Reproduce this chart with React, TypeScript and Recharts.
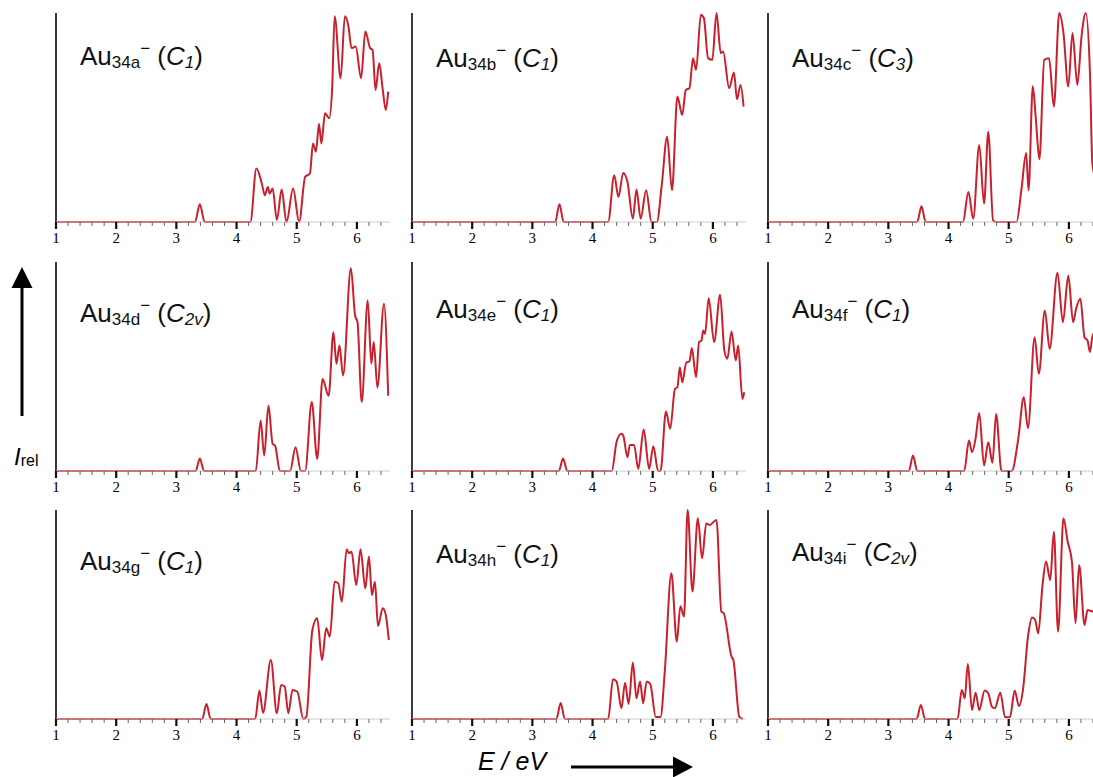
import { LineChart, Line, XAxis, YAxis, ReferenceLine } from "recharts";

const red = "#c8202c";

// tick positions on the energy axis (eV); integers get a label
const energyTicks = [
  1, 1.2, 1.4, 1.6, 1.8, 2, 2.2, 2.4, 2.6, 2.8, 3, 3.2, 3.4, 3.6, 3.8, 4, 4.2, 4.4, 4.6, 4.8,
  5, 5.2, 5.4, 5.6, 5.8, 6, 6.2, 6.4,
];

// Au34a- (C1)
const eA = [1, 3.31, 3.39, 3.47, 4.23, 4.33, 4.42, 4.47, 4.52, 4.55, 4.6, 4.67, 4.75, 4.83, 4.94, 5.04, 5.14, 5.22, 5.27, 5.32, 5.37, 5.41, 5.47, 5.54, 5.59, 5.63, 5.73, 5.8, 5.86, 5.91, 5.98, 6.07, 6.14, 6.22, 6.26, 6.31, 6.37, 6.43, 6.48, 6.52];
const iA = [0, 0, 8.5, 0, 0, 25.6, 18.4, 12.8, 16.8, 13.6, 16, 1, 15.5, 0, 16, 0, 21.6, 23.2, 37.6, 33.6, 47, 37.6, 52, 49.6, 64.8, 98.4, 68.8, 98.4, 93.6, 83.2, 84, 68.8, 91.2, 83.2, 82.4, 63.2, 76, 63.2, 53.6, 62.4];

// Au34b- (C1)
const eB = [1, 3.38, 3.45, 3.52, 4.26, 4.36, 4.43, 4.51, 4.58, 4.67, 4.73, 4.8, 4.89, 4.98, 5.07, 5.15, 5.24, 5.32, 5.41, 5.49, 5.55, 5.61, 5.67, 5.72, 5.8, 5.85, 5.92, 5.99, 6.06, 6.13, 6.17, 6.27, 6.35, 6.4, 6.46, 6.51];
const iB = [0, 0, 8.5, 0, 0, 22.4, 12, 23.5, 19.2, 1.6, 15.5, 1.6, 15.2, 0, 0, 17.6, 40.8, 15.2, 60, 51.2, 63.2, 64, 78.4, 72.8, 99.2, 97.6, 78.4, 77.6, 100, 80.8, 81.6, 64, 71.5, 58.7, 65.6, 55.2];

// Au34c- (C3)
const eC = [1, 3.48, 3.55, 3.62, 4.24, 4.33, 4.41, 4.51, 4.59, 4.66, 4.74, 4.79, 5.13, 5.21, 5.29, 5.33, 5.4, 5.45, 5.51, 5.59, 5.67, 5.75, 5.84, 5.91, 5.99, 6.06, 6.14, 6.21, 6.28, 6.35, 6.39, 6.45];
const iC = [0, 0, 7.5, 0, 0, 14.4, 1.6, 36.8, 8.8, 43.2, 0.8, 0, 0, 15.2, 33, 15.2, 65, 49.6, 30, 77.6, 78.4, 55.2, 100, 90.4, 64.8, 90.4, 65.6, 88.8, 100, 71.2, 28, 20];

// Au34d- (C2v)
const eD = [1, 3.32, 3.39, 3.46, 4.32, 4.4, 4.46, 4.53, 4.6, 4.64, 4.72, 4.89, 4.98, 5.07, 5.14, 5.25, 5.34, 5.43, 5.53, 5.61, 5.66, 5.71, 5.77, 5.9, 5.97, 6.01, 6.08, 6.18, 6.24, 6.28, 6.34, 6.45, 6.52];
const iD = [0, 0, 6, 0, 0, 24.2, 7.4, 31.3, 13, 12.2, 0, 0, 11.4, 0, 0, 33, 5.8, 44, 36, 66.4, 51.3, 60, 45.7, 97, 74.4, 71.2, 33, 81.6, 51.3, 61.7, 40, 80, 36];

// Au34e- (C1)
const eE = [1, 3.44, 3.51, 3.58, 4.32, 4.4, 4.48, 4.51, 4.58, 4.62, 4.69, 4.76, 4.85, 4.94, 5.01, 5.09, 5.13, 5.22, 5.29, 5.37, 5.41, 5.45, 5.49, 5.56, 5.61, 5.65, 5.72, 5.77, 5.81, 5.84, 5.87, 5.93, 6.02, 6.12, 6.19, 6.24, 6.31, 6.38, 6.42, 6.49, 6.52];
const iE = [0, 0, 6, 0, 0, 14, 17.8, 17, 6.6, 12.5, 12.5, 1, 19.9, 1, 11.9, 0, 0, 28.5, 20.2, 39.3, 40, 49.7, 42.5, 52, 52.4, 58.8, 44.9, 61.7, 62.4, 67.2, 65.6, 82.7, 61.7, 84.3, 57.7, 53.7, 66.8, 52.9, 60, 34.5, 37.7];

// Au34f- (C1)
const eF = [1, 3.34, 3.41, 3.48, 4.26, 4.34, 4.39, 4.45, 4.51, 4.59, 4.66, 4.73, 4.79, 4.88, 5.05, 5.16, 5.25, 5.32, 5.43, 5.5, 5.6, 5.68, 5.81, 5.9, 5.99, 6.07, 6.12, 6.19, 6.26, 6.31, 6.35, 6.4, 6.45];
const iF = [0, 0, 7.4, 0, 0, 14.6, 9, 15.7, 27.8, 2.6, 13.8, 3.9, 27.3, 0, 0, 15.7, 35.3, 20.5, 64, 46.5, 76.8, 58.5, 94.8, 71.2, 93.5, 71.2, 77.6, 82.4, 64, 62.4, 56.9, 65.6, 60];

// Au34g- (C1)
const eG = [1, 3.43, 3.5, 3.57, 4.31, 4.38, 4.44, 4.57, 4.67, 4.74, 4.8, 4.86, 4.93, 5.01, 5.11, 5.16, 5.26, 5.34, 5.42, 5.49, 5.55, 5.63, 5.69, 5.75, 5.83, 5.87, 5.91, 5.99, 6.06, 6.14, 6.2, 6.25, 6.3, 6.35, 6.43, 6.48, 6.53];
const iG = [0, 0, 7.2, 0, 0, 13.6, 3, 28.2, 2.7, 16.3, 15.5, 2.7, 13.9, 13, 0, 1, 42.6, 48.2, 28.2, 43.4, 39.4, 65.7, 64.9, 56.1, 81.2, 79.3, 80, 64.1, 81.2, 62.5, 77.7, 59.3, 65.7, 44.5, 53, 49.8, 37.8];

// Au34h- (C1)
const eH = [1, 3.4, 3.47, 3.54, 4.26, 4.34, 4.4, 4.48, 4.54, 4.6, 4.67, 4.73, 4.79, 4.84, 4.9, 4.96, 5.05, 5.13, 5.2, 5.31, 5.4, 5.46, 5.52, 5.58, 5.66, 5.75, 5.82, 5.89, 5.95, 6.0, 6.06, 6.14, 6.18, 6.31, 6.34, 6.44, 6.5];
const iH = [0, 0, 7.7, 0, 0, 19, 17.9, 5.1, 17.4, 7.2, 27, 9.9, 17.9, 7.5, 17.9, 16.7, 1, 1, 22.6, 69.7, 37, 54, 49, 100, 61, 96, 76.9, 93.6, 92.8, 94, 95.2, 51.4, 50.6, 29.8, 28.2, 1, 0];

// Au34i- (C2v)
const eI = [1, 3.47, 3.54, 3.61, 4.15, 4.22, 4.27, 4.32, 4.39, 4.45, 4.51, 4.6, 4.66, 4.72, 4.77, 4.86, 4.94, 5.02, 5.1, 5.17, 5.24, 5.32, 5.39, 5.44, 5.49, 5.56, 5.62, 5.69, 5.75, 5.82, 5.91, 5.98, 6.05, 6.11, 6.17, 6.26, 6.31, 6.39, 6.44];
const iI = [0, 0, 6.7, 0, 0, 13.9, 9.9, 26.3, 4.3, 12.6, 4.3, 13.6, 12.3, 5.9, 5.1, 12.6, 1, 0.8, 13.6, 6.2, 14.7, 39.4, 48.6, 47.4, 41, 63.5, 75.3, 66.5, 89.6, 41.8, 96, 84.8, 75.3, 45.8, 73.7, 45, 52.2, 51.4, 55];

const colX = [56, 412, 768];
const rowTop = [13, 261.5, 510];

const panels = [
  { e: eA, v: iA, col: 0, row: 0, iso: "a", pg: "1", labelY: 65 },
  { e: eB, v: iB, col: 1, row: 0, iso: "b", pg: "1", labelY: 67 },
  { e: eC, v: iC, col: 2, row: 0, iso: "c", pg: "3", labelY: 67 },
  { e: eD, v: iD, col: 0, row: 1, iso: "d", pg: "2v", labelY: 322 },
  { e: eE, v: iE, col: 1, row: 1, iso: "e", pg: "1", labelY: 318 },
  { e: eF, v: iF, col: 2, row: 1, iso: "f", pg: "1", labelY: 318 },
  { e: eG, v: iG, col: 0, row: 2, iso: "g", pg: "1", labelY: 570 },
  { e: eH, v: iH, col: 1, row: 2, iso: "h", pg: "1", labelY: 563 },
  { e: eI, v: iI, col: 2, row: 2, iso: "i", pg: "2v", labelY: 561 },
];

const EnergyTick = (props: any) => {
  const { x, y, payload } = props;
  const major = Math.abs(payload.value - Math.round(payload.value)) < 1e-6;
  return (
    <g>
      <line
        x1={x}
        x2={x}
        y1={y}
        y2={y + (major ? 7 : 4)}
        stroke={major ? "#111" : "#666"}
        strokeWidth={major ? 2.2 : 1}
      />
      {major && (
        <text
          x={x}
          y={y + 21}
          textAnchor="middle"
          fontFamily="'Liberation Serif', 'Times New Roman', serif"
          fontSize={15}
          fill="#000"
        >
          {payload.value}
        </text>
      )}
    </g>
  );
};

function Spectrum({ energies, values, left, top }: any) {
  const data = energies.map((e: number, i: number) => ({ e, v: values[i] }));
  return (
    <div style={{ position: "absolute", left: left - 10, top: top - 10 }}>
      <LineChart width={354} height={249} data={data} margin={{ top: 10, right: 10, bottom: 0, left: 10 }}>
        <XAxis
          type="number"
          dataKey="e"
          domain={[1, 6.55]}
          ticks={energyTicks}
          interval={0}
          tick={<EnergyTick />}
          tickLine={false}
          tickSize={0}
          tickMargin={0}
          axisLine={{ stroke: "#cccccc", strokeWidth: 1 }}
          height={30}
        />
        <YAxis type="number" domain={[0, 100]} hide />
        <ReferenceLine x={1} stroke="#3a3a3a" strokeWidth={2} />
        <Line
          type="monotone"
          dataKey="v"
          stroke={red}
          strokeWidth={2}
          dot={false}
          activeDot={false}
          isAnimationActive={false}
        />
      </LineChart>
    </div>
  );
}

const sans = "'Liberation Sans', Arial, Helvetica, sans-serif";

export default function App() {
  return (
    <div
      style={{
        position: "fixed",
        left: 0,
        top: 0,
        width: 1093,
        height: 777,
        overflow: "hidden",
        background: "#fff",
      }}
    >
      {panels.map((p) => (
        <Spectrum key={p.iso} energies={p.e} values={p.v} left={colX[p.col]} top={rowTop[p.row]} />
      ))}

      <svg width={1093} height={777} style={{ position: "absolute", left: 0, top: 0, pointerEvents: "none" }}>
        {panels.map((p) => (
          <text key={p.iso} x={colX[p.col] + 24} y={p.labelY} fontFamily={sans} fontSize={26} fill="#111">
            Au
            <tspan fontSize={17} dy={3}>{"34" + p.iso}</tspan>
            <tspan fontSize={17} dy={-14}>{"\u2212"}</tspan>
            <tspan dy={11}>{"\u00a0("}</tspan>
            <tspan fontStyle="italic">C</tspan>
            <tspan fontStyle="italic" fontSize={17} dy={3}>{p.pg}</tspan>
            <tspan dy={-3}>)</tspan>
          </text>
        ))}

        {/* intensity arrow */}
        <line x1={22} x2={22} y1={416} y2={286} stroke="#000" strokeWidth={3} />
        <polygon points="11.5,288 32.5,288 22,267" fill="#000" />
        <text x={14} y={465} fontFamily={sans} fontSize={24} fill="#000">
          <tspan fontStyle="italic">I</tspan>
          <tspan fontSize={16} dy={1}>rel</tspan>
        </text>

        {/* energy arrow */}
        <text x={478} y={770} fontFamily={sans} fontSize={25} fontStyle="italic" fill="#000">
          E / eV
        </text>
        <line x1={571} x2={675} y1={767} y2={767} stroke="#000" strokeWidth={3} />
        <polygon points="673,756.5 673,777.5 693,767" fill="#000" />
      </svg>
    </div>
  );
}
